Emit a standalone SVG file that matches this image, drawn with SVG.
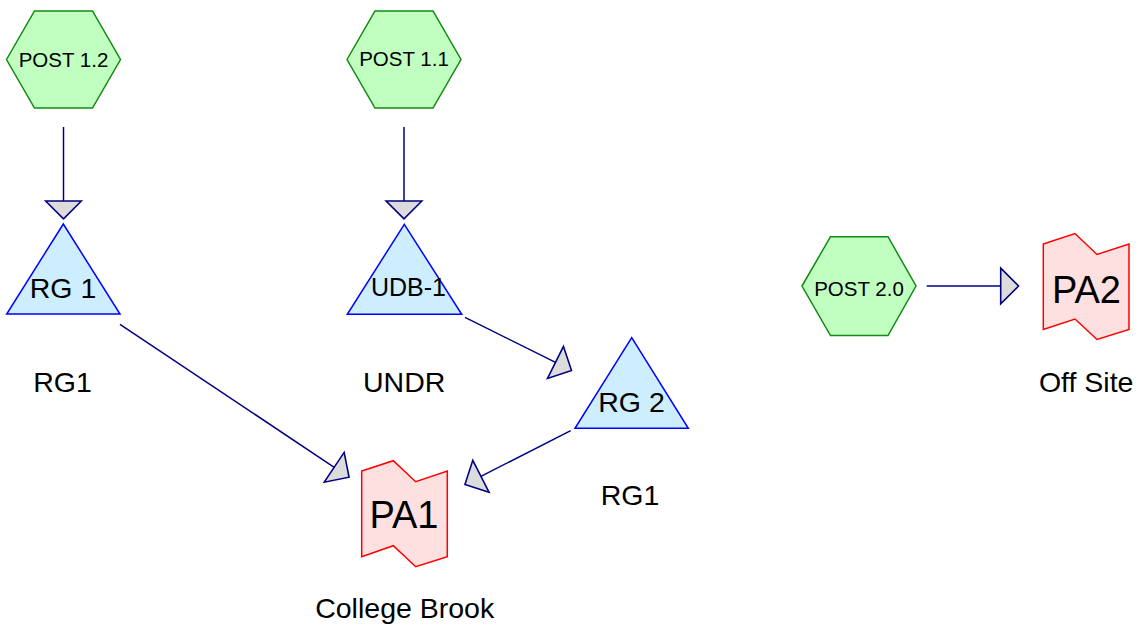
<svg xmlns="http://www.w3.org/2000/svg" width="1143" height="629" viewBox="0 0 1143 629">
<style>
text{font-family:"Liberation Sans",Arial,sans-serif;fill:#000;text-anchor:middle}
.hex{fill:#c0ffc0;stroke:#108a10;stroke-width:1.5}
.tri{fill:#cdeeff;stroke:#0000ff;stroke-width:1.5}
.pa{fill:#ffe0e0;stroke:#ff0000;stroke-width:1.5}
.edge{stroke:#000080;stroke-width:1.5;fill:none;marker-end:url(#arr)}
.t20{font-size:20.5px}
.t25{font-size:25px}
.t28{font-size:28.5px}
.t36{font-size:38px}
</style>
<defs>
<marker id="arr" markerUnits="userSpaceOnUse" markerWidth="40" markerHeight="40" viewBox="-2 -19 22 38" refX="0" refY="0" orient="auto">
<path d="M0,-17 L17,0 L0,17 Z" fill="#dcdcdc" stroke="#000080" stroke-width="1.5"/>
</marker>
</defs>
<rect width="1143" height="629" fill="#fff"/>
<g id="connectors">
<line class="edge" x1="63.5" y1="127" x2="63.5" y2="201"/>
<line class="edge" x1="404" y1="127" x2="404" y2="201"/>
<line class="edge" x1="120" y1="324.3" x2="334.2" y2="467.3"/>
<line class="edge" x1="465" y1="317.3" x2="555.5" y2="362.4"/>
<line class="edge" x1="570.7" y1="430.7" x2="480.9" y2="476.3"/>
<line class="edge" x1="926.7" y1="286" x2="1000.7" y2="286"/>
</g>
<g id="post12">
<polygon class="hex" points="6.5,59.5 34.5,11 92.5,11 120.5,59.5 92.5,108 34.5,108"/>
<text class="t20" x="63.5" y="66.7">POST 1.2</text>
</g>
<g id="post11">
<polygon class="hex" points="347,59.5 375,11 433,11 461,59.5 433,108 375,108"/>
<text class="t20" x="404" y="66.2">POST 1.1</text>
</g>
<g id="post20">
<polygon class="hex" points="802,286 830.5,236.7 888,236.7 916,286 888,335.5 830.5,335.5"/>
<text class="t20" x="859" y="296">POST 2.0</text>
</g>
<g id="rg1">
<polygon class="tri" points="63.3,224 120,314 6.7,314"/>
<text class="t28" x="63" y="297.5">RG 1</text>
<text class="t28" x="62.5" y="392">RG1</text>
</g>
<g id="udb1">
<polygon class="tri" points="404.3,224.3 461.7,314.3 347.3,314.3"/>
<text class="t25" x="408.5" y="296">UDB-1</text>
<text class="t28" x="404.2" y="391.7">UNDR</text>
</g>
<g id="rg2">
<polygon class="tri" points="631.7,337.7 688.3,428.3 575,428.3"/>
<text class="t28" x="631.5" y="411.7">RG 2</text>
<text class="t28" x="630" y="505">RG1</text>
</g>
<g id="pa1">
<polygon class="pa" points="361.7,471 393.3,460.7 415.7,481.7 447.3,471 447.3,556.7 415.7,566.7 393.3,545.7 361.7,556.7"/>
<text class="t36" x="404" y="528.3">PA1</text>
<text class="t28" x="404.7" y="617.7">College Brook</text>
</g>
<g id="pa2">
<polygon class="pa" points="1043.3,244 1075,233.5 1097,254.5 1129,244 1129,329.5 1097,339.5 1075,319 1043.3,329.5"/>
<text class="t36" x="1086.5" y="302.5">PA2</text>
<text class="t28" x="1086.2" y="391.7">Off Site</text>
</g>
</svg>
